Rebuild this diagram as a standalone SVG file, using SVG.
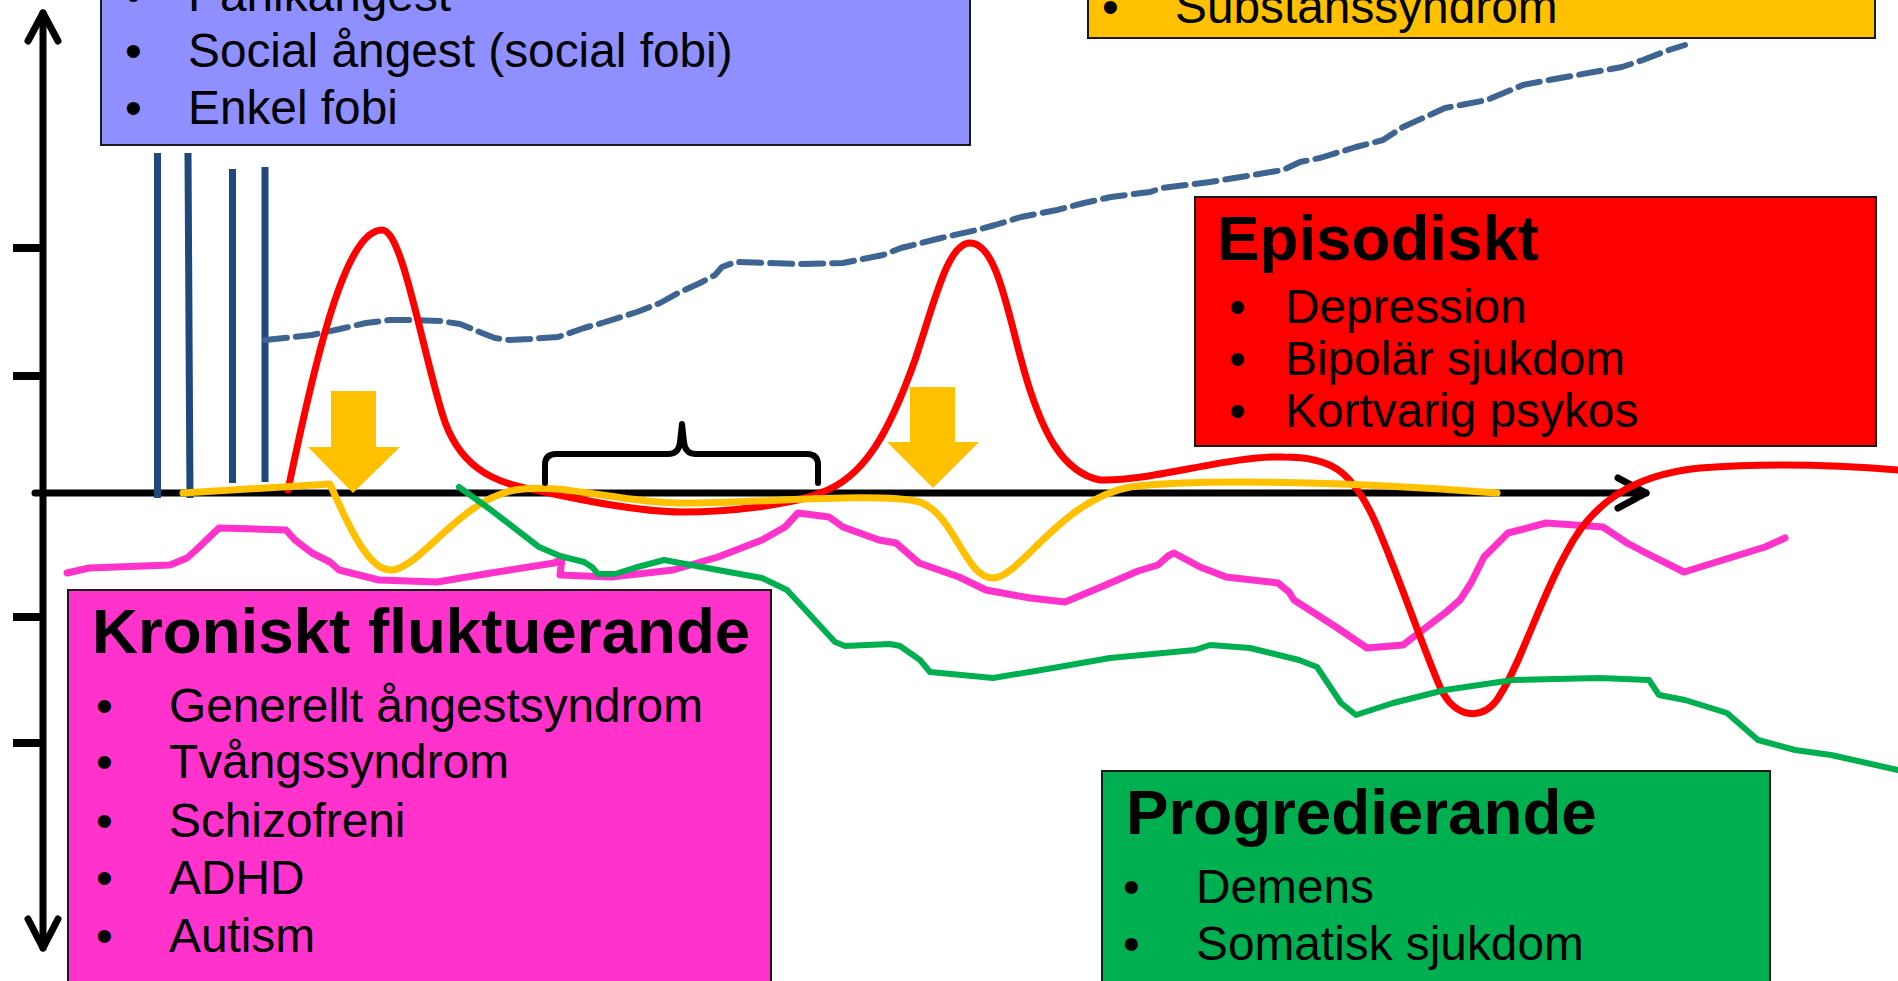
<svg xmlns="http://www.w3.org/2000/svg" width="1898" height="981" viewBox="0 0 1898 981">
  <defs>
    <style>
      .box { stroke: #1a1a1a; stroke-width: 2; }
      .title { font-family: "Liberation Sans", Arial, sans-serif; font-weight: bold; font-size: 63.7px; fill: #000; }
      .item { font-family: "Liberation Sans", Arial, sans-serif; font-size: 47.8px; fill: #000; }
      .axis { stroke: #000; stroke-width: 7; fill: none; stroke-linecap: round; stroke-linejoin: round; }
      .tick { stroke: #000; stroke-width: 8; }
      .curve { fill: none; stroke-linecap: round; stroke-linejoin: round; }
      .bar { stroke: #1f497d; stroke-width: 7; }
      .down { fill: #ffc000; }
    </style>
  </defs>
  <rect width="1898" height="981" fill="#ffffff"/>

  <!-- axes -->
  <g id="axes">
    <line class="axis" x1="43" y1="13" x2="43" y2="948" stroke-linecap="butt"/>
    <polyline class="axis" points="28,41 43,13 58,41"/>
    <polyline class="axis" points="28,919 43,948 58,919"/>
    <line class="tick" x1="13" y1="248" x2="43" y2="248"/>
    <line class="tick" x1="13" y1="376" x2="43" y2="376"/>
    <line class="tick" x1="13" y1="617" x2="43" y2="617"/>
    <line class="tick" x1="13" y1="743" x2="43" y2="743"/>
    <line class="axis" x1="35" y1="493" x2="1646" y2="493" stroke-linecap="butt"/>
    <polyline class="axis" points="1618,478 1646,493 1618,508"/>
  </g>

  <!-- connectors: course curves -->
  <g id="connectors">
    <!-- short repeated attacks -->
    <line class="bar" x1="157.5" y1="153" x2="157.5" y2="498"/>
    <line class="bar" x1="188" y1="153" x2="190" y2="498"/>
    <line class="bar" x1="232.5" y1="169" x2="232.5" y2="483"/>
    <line class="bar" x1="265" y1="167" x2="265" y2="482"/>

    <!-- substance: rising dashed trend -->
    <path class="curve" stroke="#3e6491" stroke-width="6" stroke-dasharray="22 9" stroke-linecap="butt"
      d="M 265 340 L 312 335 L 340 329 L 366 323 L 390 320 L 415 320 L 440 321 L 460 324 L 470 328 L 482 333 L 495 338 L 509 340 L 530 339 L 558 337 L 584 328 L 602 323 L 637 312 L 660 303 L 678 293 L 700 283 L 715 275 L 722 267 L 736 262 L 798 264 L 843 263 L 883 255 L 901 248 L 941 238 L 977 230 L 995 225 L 1021 217 L 1057 210 L 1084 203 L 1111 197 L 1150 192 L 1162 188 L 1210 182 L 1283 170 L 1300 162 L 1320 158 L 1356 147 L 1383 140 L 1403 127 L 1445 108 L 1487 100 L 1523 85 L 1549 80 L 1622 67 L 1643 60 L 1669 50 L 1685 45"/>

    <!-- chronic fluctuating -->
    <path class="curve" stroke="#ff33cc" stroke-width="7"
      d="M 67 573 L 89 568 L 170 565 L 187 558 L 196 550 L 219 528 L 286 530 L 295 540 L 312 553 L 330 562 L 339 570 L 379 580 L 437 582 L 491 573 L 554 563 L 562 559 L 560 575 L 611 577 L 673 570 L 718 557 L 762 540 L 785 527 L 798 513 L 829 517 L 843 527 L 879 540 L 896 543 L 919 563 L 959 577 L 986 590 L 1030 598 L 1065 602 L 1101 587 L 1138 571 L 1158 565 L 1168 556 L 1174 553 L 1200 567 L 1226 577 L 1278 583 L 1289 592 L 1294 600 L 1336 627 L 1367 648 L 1403 645 L 1445 613 L 1460 600 L 1471 583 L 1484 557 L 1508 533 L 1546 523 L 1603 527 L 1627 543 L 1646 553 L 1684 572 L 1723 560 L 1765 547 L 1785 538"/>

    <!-- episodic -->
    <path class="curve" stroke="#ff0000" stroke-width="7"
      d="M 288 490 C 315 360, 345 230, 382 230 C 402 230, 420 340, 442 413 C 457 464, 490 483, 536 490 C 580 500, 640 512, 682 512 C 730 512, 790 505, 820 493 C 865 478, 890 430, 915 360 C 935 300, 948 243, 970 243 C 1000 243, 1010 330, 1030 390 C 1042 426, 1060 472, 1100 480 C 1150 482, 1230 455, 1284 457 C 1330 457, 1350 470, 1372 515 C 1390 552, 1420 640, 1440 687 C 1455 720, 1485 722, 1500 695 C 1520 665, 1540 600, 1565 555 C 1590 505, 1630 475, 1700 468 C 1780 462, 1850 466, 1898 470"/>

    <!-- substance episodes -->
    <path class="curve" stroke="#ffc000" stroke-width="7"
      d="M 183 493 L 330 484 C 350 530, 370 572, 392 570 C 420 568, 460 500, 515 490 C 560 482, 620 503, 680 503 C 760 503, 880 492, 920 502 C 955 515, 965 578, 993 578 C 1020 578, 1060 500, 1130 487 C 1200 478, 1350 482, 1497 493"/>

    <!-- progressive -->
    <path class="curve" stroke="#00b050" stroke-width="6"
      d="M 459 487 L 491 510 L 539 547 L 560 556 L 584 562 L 592 567 L 598 574 L 615 574 L 634 568 L 664 560 L 718 570 L 762 578 L 787 590 L 835 642 L 845 646 L 890 644 L 900 646 L 920 660 L 930 672 L 993 678 L 1053 668 L 1110 658 L 1195 650 L 1210 645 L 1250 648 L 1299 660 L 1317 667 L 1341 703 L 1356 715 L 1393 703 L 1445 690 L 1513 680 L 1600 678 L 1649 680 L 1659 695 L 1685 700 L 1727 713 L 1758 740 L 1795 750 L 1831 755 L 1898 770"/>

    <!-- treatment arrows -->
    <polygon class="down" points="331,391 376,391 376,447 400,447 353,493 308,447 331,447"/>
    <polygon class="down" points="910,387 955,387 955,442 979,442 933,488 887,442 910,442"/>

    <!-- remission interval brace -->
    <path class="curve" stroke="#000" stroke-width="6"
      d="M 545 483 L 545 465 Q 545 454 556 454 L 668 454 Q 679 454 680 442 L 682 424 L 684 442 Q 685 454 696 454 L 807 454 Q 818 454 818 465 L 818 483"/>
  </g>

  <!-- category boxes -->
  <g id="anxiety">
    <rect class="box" x="101" y="-10" width="869" height="155" fill="#8f8fff"/>
    <text class="item" x="125" y="11">•</text>
    <text class="item" x="188" y="11">Panikångest</text>
    <text class="item" x="125" y="67">•</text>
    <text class="item" x="188" y="67">Social ångest (social fobi)</text>
    <text class="item" x="125" y="124">•</text>
    <text class="item" x="188" y="124">Enkel fobi</text>
  </g>

  <g id="substance">
    <rect class="box" x="1088" y="-10" width="787" height="48" fill="#ffc000"/>
    <text class="item" x="1102" y="23">•</text>
    <text class="item" x="1175" y="23">Substanssyndrom</text>
  </g>

  <g id="episodic">
    <rect class="box" x="1195" y="197" width="681" height="249" fill="#ff0000"/>
    <text class="title" x="1217" y="260">Episodiskt</text>
    <text class="item" x="1229" y="323">•</text>
    <text class="item" x="1285" y="323">Depression</text>
    <text class="item" x="1229" y="375">•</text>
    <text class="item" x="1285" y="375">Bipolär sjukdom</text>
    <text class="item" x="1229" y="427">•</text>
    <text class="item" x="1285" y="427">Kortvarig psykos</text>
  </g>

  <g id="chronic">
    <rect class="box" x="68" y="590" width="703" height="400" fill="#ff33cc"/>
    <text class="title" x="92" y="653">Kroniskt fluktuerande</text>
    <text class="item" x="96" y="722">•</text>
    <text class="item" x="169" y="722">Generellt ångestsyndrom</text>
    <text class="item" x="96" y="778">•</text>
    <text class="item" x="169" y="778">Tvångssyndrom</text>
    <text class="item" x="96" y="837">•</text>
    <text class="item" x="169" y="837">Schizofreni</text>
    <text class="item" x="96" y="894">•</text>
    <text class="item" x="169" y="894">ADHD</text>
    <text class="item" x="96" y="952">•</text>
    <text class="item" x="169" y="952">Autism</text>
  </g>

  <g id="progressive">
    <rect class="box" x="1102" y="771" width="668" height="220" fill="#00b050"/>
    <text class="title" x="1126" y="834">Progredierande</text>
    <text class="item" x="1123" y="903">•</text>
    <text class="item" x="1196" y="903">Demens</text>
    <text class="item" x="1123" y="960">•</text>
    <text class="item" x="1196" y="960">Somatisk sjukdom</text>
  </g>
</svg>
